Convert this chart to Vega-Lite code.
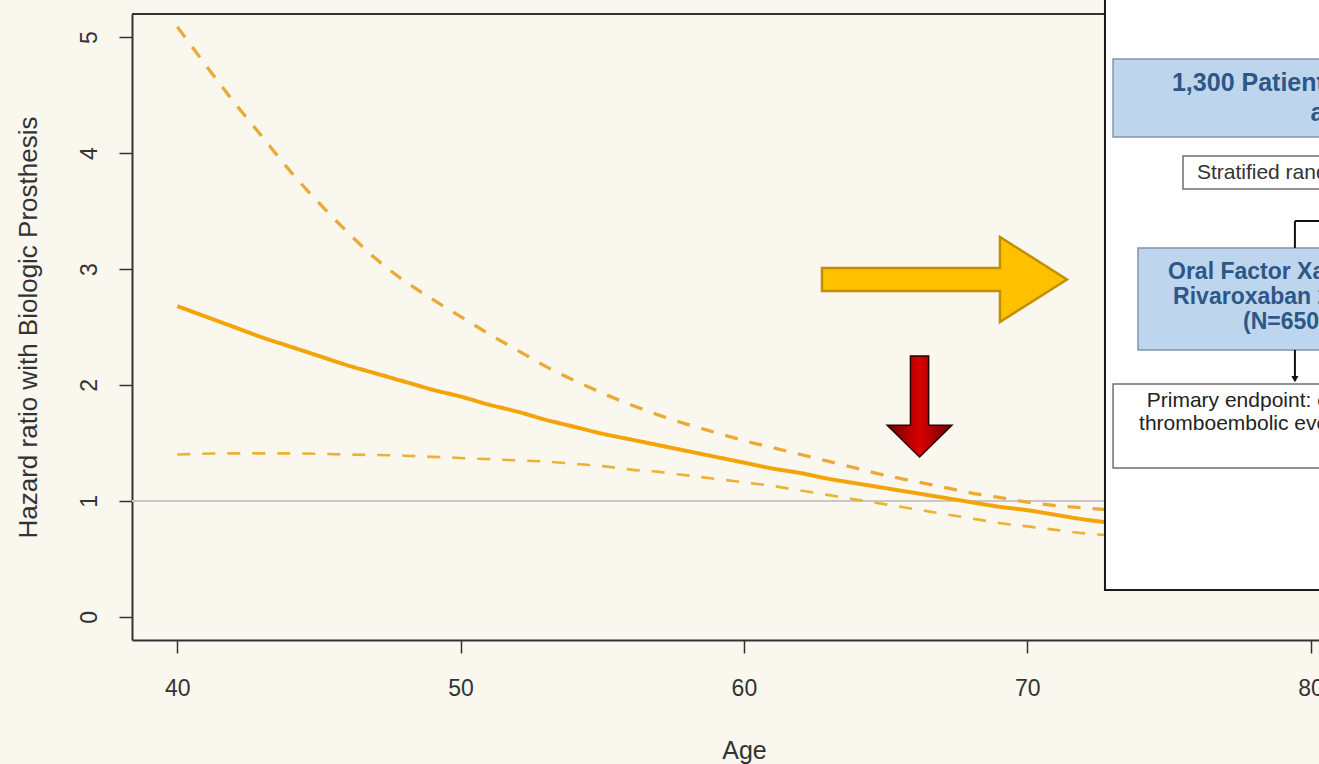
{
  "$schema": "https://vega.github.io/schema/vega-lite/v6.json",
  "width": 1187,
  "height": 626,
  "autosize": {"type": "none"},
  "padding": {"left": 132, "top": 14, "right": 0, "bottom": 124},
  "background": "#FAF7EF",
  "config": {"view": {"stroke": null}, "font": "Liberation Sans"},
  "datasets": {
    "curves": [
      {"age": 40, "hr": 2.68, "band": "estimate"}, {"age": 41, "hr": 2.59, "band": "estimate"}, {"age": 42, "hr": 2.50, "band": "estimate"}, {"age": 43, "hr": 2.41, "band": "estimate"}, {"age": 44, "hr": 2.33, "band": "estimate"}, {"age": 45, "hr": 2.25, "band": "estimate"}, {"age": 46, "hr": 2.17, "band": "estimate"}, {"age": 47, "hr": 2.10, "band": "estimate"}, {"age": 48, "hr": 2.03, "band": "estimate"}, {"age": 49, "hr": 1.96, "band": "estimate"}, {"age": 50, "hr": 1.90, "band": "estimate"}, {"age": 51, "hr": 1.83, "band": "estimate"}, {"age": 52, "hr": 1.77, "band": "estimate"}, {"age": 53, "hr": 1.70, "band": "estimate"}, {"age": 54, "hr": 1.64, "band": "estimate"}, {"age": 55, "hr": 1.58, "band": "estimate"}, {"age": 56, "hr": 1.53, "band": "estimate"}, {"age": 57, "hr": 1.48, "band": "estimate"}, {"age": 58, "hr": 1.43, "band": "estimate"}, {"age": 59, "hr": 1.38, "band": "estimate"}, {"age": 60, "hr": 1.33, "band": "estimate"}, {"age": 61, "hr": 1.28, "band": "estimate"}, {"age": 62, "hr": 1.24, "band": "estimate"}, {"age": 63, "hr": 1.19, "band": "estimate"}, {"age": 64, "hr": 1.15, "band": "estimate"}, {"age": 65, "hr": 1.11, "band": "estimate"}, {"age": 66, "hr": 1.07, "band": "estimate"}, {"age": 67, "hr": 1.03, "band": "estimate"}, {"age": 68, "hr": 0.99, "band": "estimate"}, {"age": 69, "hr": 0.95, "band": "estimate"}, {"age": 70, "hr": 0.92, "band": "estimate"}, {"age": 71, "hr": 0.88, "band": "estimate"}, {"age": 72, "hr": 0.84, "band": "estimate"}, {"age": 73, "hr": 0.81, "band": "estimate"}, {"age": 74, "hr": 0.78, "band": "estimate"}, {"age": 76, "hr": 0.73, "band": "estimate"}, {"age": 78, "hr": 0.68, "band": "estimate"}, {"age": 80, "hr": 0.63, "band": "estimate"},
      {"age": 40, "hr": 5.09, "band": "upper"}, {"age": 41, "hr": 4.76, "band": "upper"}, {"age": 42, "hr": 4.44, "band": "upper"}, {"age": 43, "hr": 4.14, "band": "upper"}, {"age": 44, "hr": 3.84, "band": "upper"}, {"age": 45, "hr": 3.57, "band": "upper"}, {"age": 46, "hr": 3.32, "band": "upper"}, {"age": 47, "hr": 3.09, "band": "upper"}, {"age": 48, "hr": 2.90, "band": "upper"}, {"age": 49, "hr": 2.74, "band": "upper"}, {"age": 50, "hr": 2.59, "band": "upper"}, {"age": 51, "hr": 2.44, "band": "upper"}, {"age": 52, "hr": 2.30, "band": "upper"}, {"age": 53, "hr": 2.16, "band": "upper"}, {"age": 54, "hr": 2.04, "band": "upper"}, {"age": 55, "hr": 1.93, "band": "upper"}, {"age": 56, "hr": 1.83, "band": "upper"}, {"age": 57, "hr": 1.74, "band": "upper"}, {"age": 58, "hr": 1.66, "band": "upper"}, {"age": 59, "hr": 1.59, "band": "upper"}, {"age": 60, "hr": 1.52, "band": "upper"}, {"age": 61, "hr": 1.46, "band": "upper"}, {"age": 62, "hr": 1.40, "band": "upper"}, {"age": 63, "hr": 1.34, "band": "upper"}, {"age": 64, "hr": 1.28, "band": "upper"}, {"age": 65, "hr": 1.22, "band": "upper"}, {"age": 66, "hr": 1.17, "band": "upper"}, {"age": 67, "hr": 1.12, "band": "upper"}, {"age": 68, "hr": 1.07, "band": "upper"}, {"age": 69, "hr": 1.03, "band": "upper"}, {"age": 70, "hr": 0.99, "band": "upper"}, {"age": 71, "hr": 0.96, "band": "upper"}, {"age": 72, "hr": 0.94, "band": "upper"}, {"age": 73, "hr": 0.92, "band": "upper"}, {"age": 74, "hr": 0.90, "band": "upper"}, {"age": 76, "hr": 0.86, "band": "upper"}, {"age": 78, "hr": 0.82, "band": "upper"}, {"age": 80, "hr": 0.79, "band": "upper"},
      {"age": 40, "hr": 1.40, "band": "lower"}, {"age": 42, "hr": 1.41, "band": "lower"}, {"age": 44, "hr": 1.41, "band": "lower"}, {"age": 46, "hr": 1.40, "band": "lower"}, {"age": 48, "hr": 1.39, "band": "lower"}, {"age": 49, "hr": 1.38, "band": "lower"}, {"age": 50, "hr": 1.37, "band": "lower"}, {"age": 51, "hr": 1.36, "band": "lower"}, {"age": 52, "hr": 1.35, "band": "lower"}, {"age": 53, "hr": 1.34, "band": "lower"}, {"age": 54, "hr": 1.32, "band": "lower"}, {"age": 55, "hr": 1.30, "band": "lower"}, {"age": 56, "hr": 1.27, "band": "lower"}, {"age": 57, "hr": 1.25, "band": "lower"}, {"age": 58, "hr": 1.22, "band": "lower"}, {"age": 59, "hr": 1.19, "band": "lower"}, {"age": 60, "hr": 1.16, "band": "lower"}, {"age": 61, "hr": 1.13, "band": "lower"}, {"age": 62, "hr": 1.09, "band": "lower"}, {"age": 63, "hr": 1.05, "band": "lower"}, {"age": 64, "hr": 1.01, "band": "lower"}, {"age": 65, "hr": 0.97, "band": "lower"}, {"age": 66, "hr": 0.93, "band": "lower"}, {"age": 67, "hr": 0.89, "band": "lower"}, {"age": 68, "hr": 0.85, "band": "lower"}, {"age": 69, "hr": 0.81, "band": "lower"}, {"age": 70, "hr": 0.78, "band": "lower"}, {"age": 71, "hr": 0.75, "band": "lower"}, {"age": 72, "hr": 0.72, "band": "lower"}, {"age": 73, "hr": 0.70, "band": "lower"}, {"age": 74, "hr": 0.67, "band": "lower"}, {"age": 76, "hr": 0.61, "band": "lower"}, {"age": 78, "hr": 0.56, "band": "lower"}, {"age": 80, "hr": 0.51, "band": "lower"}
    ],
    "reference": [{"age": 38.4, "age2": 82, "hr": 1}],
    "frameTop": [{"age": 38.4, "age2": 82, "hr": 5.2}],
    "overlay": [{"age": 72.745, "age2": 82, "hr": 0.232, "hr2": 5.5}],
    "blueBoxes": [
      {"age": 73.03, "age2": 82, "hr": 4.812, "hr2": 4.139},
      {"age": 73.91, "age2": 82, "hr": 3.182, "hr2": 2.302}
    ],
    "whiteBoxes": [
      {"age": 75.50, "age2": 82, "hr": 3.975, "hr2": 3.690},
      {"age": 73.03, "age2": 82, "hr": 2.008, "hr2": 1.284}
    ],
    "connectors": [
      {"age": 79.45, "age2": 82, "hr": 3.414, "hr2": 3.414},
      {"age": 79.45, "age2": 79.45, "hr": 3.414, "hr2": 3.182},
      {"age": 79.45, "age2": 79.45, "hr": 2.302, "hr2": 2.06}
    ],
    "arrowTip": [{"age": 79.45, "hr": 2.05}],
    "labels": [
      {"box": "b1", "age": 75.11, "hr": 4.605, "text": "1,300 Patients with AF and a bioprosthesis"},
      {"box": "b1", "age": 80.0, "hr": 4.346, "text": "and atrial fibrillation"},
      {"box": "s", "age": 75.99, "hr": 3.829, "text": "Stratified randomization 1:1"},
      {"box": "b2", "age": 74.97, "hr": 2.975, "text": "Oral Factor Xa inhibitor"},
      {"box": "b2", "age": 75.15, "hr": 2.759, "text": "Rivaroxaban 20 mg daily"},
      {"box": "b2", "age": 77.62, "hr": 2.543, "text": "(N=650)"},
      {"box": "w", "age": 74.22, "hr": 1.862, "text": "Primary endpoint: composite of"},
      {"box": "w", "age": 73.95, "hr": 1.663, "text": "thromboembolic events"}
    ],
    "goldArrow": [{"age": 67.08, "hr": 2.91}],
    "redArrow": [{"age": 66.20, "hr": 1.814}]
  },
  "encoding": {
    "x": {
      "field": "age", "type": "quantitative",
      "scale": {"domain": [38.4, 80.3], "nice": false, "zero": false},
      "axis": {
        "values": [40, 50, 60, 70, 80], "grid": false,
        "domainColor": "#333333", "domainWidth": 2,
        "tickColor": "#333333", "tickWidth": 1.5, "tickSize": 13,
        "labelFontSize": 23, "labelColor": "#333333", "labelPadding": 24,
        "labelFlush": false, "labelOverlap": false,
        "title": "Age", "titleFontSize": 25, "titleFontWeight": "normal", "titleColor": "#333333",
        "titleX": 612, "titleY": 110, "titleBaseline": "middle", "titleAlign": "center"
      }
    },
    "y": {
      "field": "hr", "type": "quantitative",
      "scale": {"domain": [-0.2, 5.2], "nice": false, "zero": false},
      "axis": {
        "values": [0, 1, 2, 3, 4, 5], "grid": false,
        "domainColor": "#333333", "domainWidth": 2,
        "tickColor": "#333333", "tickWidth": 1.5, "tickSize": 13,
        "labelFontSize": 23, "labelColor": "#333333", "labelPadding": 18,
        "labelAngle": 270, "labelAlign": "center", "labelBaseline": "bottom",
        "labelFlush": false, "labelOverlap": false,
        "title": "Hazard ratio with Biologic Prosthesis", "titleFontSize": 26, "titleFontWeight": "normal", "titleColor": "#333333",
        "titleAngle": 270, "titleX": -104, "titleY": 313, "titleAlign": "center", "titleBaseline": "middle"
      }
    }
  },
  "layer": [
    {
      "data": {"name": "reference"},
      "mark": {"type": "rule", "color": "#C8C8C8", "strokeWidth": 2},
      "encoding": {"x2": {"field": "age2"}}
    },
    {
      "data": {"name": "frameTop"},
      "mark": {"type": "rule", "color": "#333333", "strokeWidth": 2},
      "encoding": {"x2": {"field": "age2"}}
    },
    {
      "data": {"name": "curves"},
      "mark": {"type": "line", "interpolate": "monotone", "strokeCap": "butt"},
      "encoding": {
        "color": {"field": "band", "type": "nominal", "legend": null,
          "scale": {"domain": ["estimate", "upper", "lower"], "range": ["#F4A40A", "#EBAA36", "#EDB233"]}},
        "strokeDash": {"field": "band", "type": "nominal", "legend": null,
          "scale": {"domain": ["estimate", "upper", "lower"], "range": [[1, 0], [13, 12], [13, 12]]}},
        "strokeWidth": {"field": "band", "type": "nominal", "legend": null,
          "scale": {"domain": ["estimate", "upper", "lower"], "range": [4, 2.6, 2.6]}}
      }
    },
    {
      "data": {"name": "overlay"},
      "mark": {"type": "rect", "fill": "#FFFFFF", "stroke": "#1A1A1A", "strokeWidth": 2},
      "encoding": {"x2": {"field": "age2"}, "y2": {"field": "hr2"}}
    },
    {
      "data": {"name": "blueBoxes"},
      "mark": {"type": "rect", "fill": "#BDD6EE", "stroke": "#8494AA", "strokeWidth": 1.5},
      "encoding": {"x2": {"field": "age2"}, "y2": {"field": "hr2"}}
    },
    {
      "data": {"name": "whiteBoxes"},
      "mark": {"type": "rect", "fill": "#FFFFFF", "stroke": "#6F6F6F", "strokeWidth": 1.5},
      "encoding": {"x2": {"field": "age2"}, "y2": {"field": "hr2"}}
    },
    {
      "data": {"name": "connectors"},
      "mark": {"type": "rule", "color": "#111111", "strokeWidth": 2},
      "encoding": {"x2": {"field": "age2"}, "y2": {"field": "hr2"}}
    },
    {
      "data": {"name": "arrowTip"},
      "mark": {"type": "point", "shape": "triangle-down", "size": 50, "filled": true, "fill": "#111111", "opacity": 1}
    },
    {
      "data": {"name": "labels"},
      "transform": [{"filter": "datum.box === 'b1'"}],
      "mark": {"type": "text", "align": "left", "baseline": "middle", "fontSize": 25, "fontWeight": "bold", "color": "#2D5786"},
      "encoding": {"text": {"field": "text"}}
    },
    {
      "data": {"name": "labels"},
      "transform": [{"filter": "datum.box === 'b2'"}],
      "mark": {"type": "text", "align": "left", "baseline": "middle", "fontSize": 23, "fontWeight": "bold", "color": "#2D5786"},
      "encoding": {"text": {"field": "text"}}
    },
    {
      "data": {"name": "labels"},
      "transform": [{"filter": "datum.box === 's'"}],
      "mark": {"type": "text", "align": "left", "baseline": "middle", "fontSize": 21, "color": "#333333"},
      "encoding": {"text": {"field": "text"}}
    },
    {
      "data": {"name": "labels"},
      "transform": [{"filter": "datum.box === 'w'"}],
      "mark": {"type": "text", "align": "left", "baseline": "middle", "fontSize": 21, "color": "#222222"},
      "encoding": {"text": {"field": "text"}}
    },
    {
      "data": {"name": "goldArrow"},
      "mark": {"type": "point", "shape": "M -1 -0.094 L 0.453 -0.094 L 0.453 -0.347 L 1 0 L 0.453 0.347 L 0.453 0.094 L -1 0.094 Z", "size": 60025, "filled": true, "fill": "#FFC000", "stroke": "#BF9000", "strokeWidth": 2.5, "opacity": 1}
    },
    {
      "data": {"name": "redArrow"},
      "mark": {"type": "point", "shape": "M -0.18 -1 L 0.18 -1 L 0.18 0.37 L 0.64 0.37 L 0 1 L -0.64 0.37 L -0.18 0.37 Z", "size": 10201, "filled": true,
        "fill": {"gradient": "linear", "x1": 0, "y1": 0, "x2": 1, "y2": 0, "stops": [{"offset": 0, "color": "#6E0000"}, {"offset": 0.5, "color": "#D80000"}, {"offset": 1, "color": "#6E0000"}]},
        "stroke": "#2A0000", "strokeWidth": 1.5, "opacity": 1}
    }
  ]
}
